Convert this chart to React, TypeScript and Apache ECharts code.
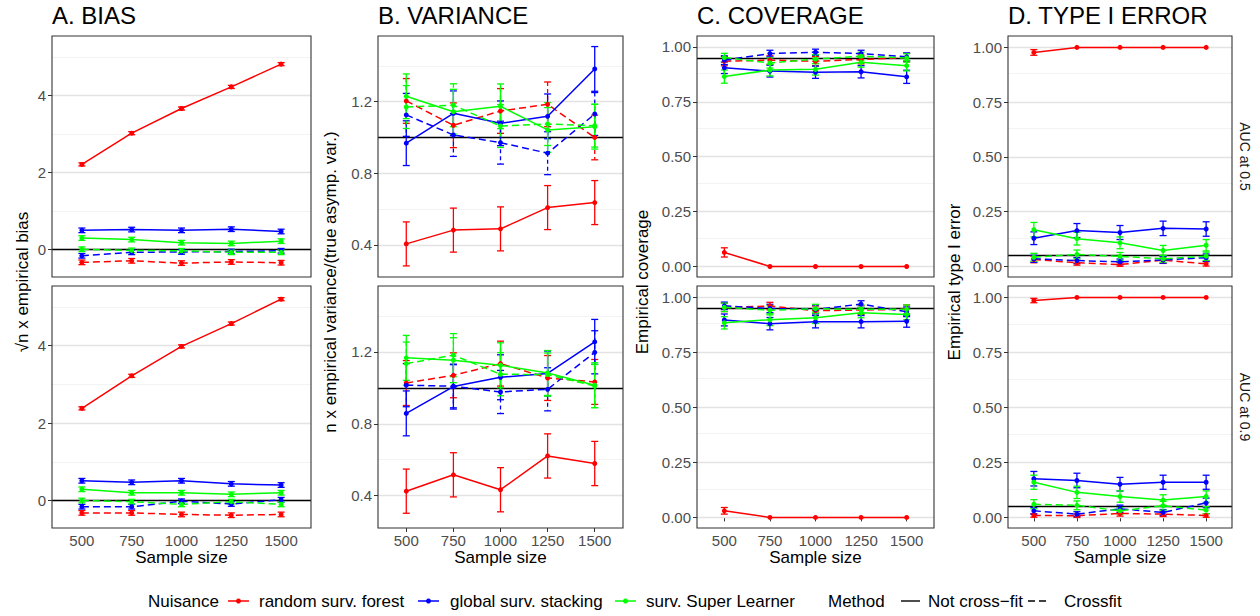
import React, { useEffect, useRef } from 'react';
import * as echarts from 'echarts';

const FONT = '"Liberation Sans", Arial, Helvetica, sans-serif';

// ---------- categories / labels ----------
const SAMPLE_SIZES = [500, 750, 1000, 1250, 1500];
const NUISANCE = ['random surv. forest', 'global surv. stacking', 'surv. Super Learner'];
const NUISANCE_COLORS = ['#FF0000', '#0000FF', '#00FF00'];
const METHODS = ['Not cross\u2212fit', 'Crossfit'];
const ROW_LABELS = ['AUC at 0.5', 'AUC at 0.9'];
const PANEL_TITLES = ['A. BIAS', 'B. VARIANCE', 'C. COVERAGE', 'D. TYPE I ERROR'];
const Y_TITLES = [
  '\u221An x empirical bias',
  'n x empirical variance/(true asymp. var.)',
  'Empirical coverage',
  'Empirical type I error',
];
const X_TITLE = 'Sample size';

// y-axis ticks per column
const BIAS_TICKS = [0, 2, 4];
const BIAS_MINOR = [1, 3, 5];
const VAR_TICKS = [0.4, 0.8, 1.2];
const VAR_MINOR = [0.6, 1.0, 1.4];
const PROB_TICKS = [0, 0.25, 0.5, 0.75, 1];
const PROB_MINOR = [0.125, 0.375, 0.625, 0.875];
const REFERENCE_LINES = [0, 1, 0.95, 0.05];

// ---------- A. BIAS (AUC 0.5) ----------
const bias05_rsf = [2.21, 3.02, 3.66, 4.22, 4.81];
const bias05_rsf_cf = [-0.33, -0.29, -0.35, -0.32, -0.34];
const bias05_gss = [0.5, 0.52, 0.5, 0.53, 0.47];
const bias05_gss_cf = [-0.16, -0.07, -0.06, -0.05, -0.03];
const bias05_sl = [0.3, 0.26, 0.18, 0.16, 0.22];
const bias05_sl_cf = [0.01, -0.02, -0.03, -0.07, -0.07];
const bias05_err = [
  [0.04, 0.04, 0.04, 0.04, 0.04],
  [0.06, 0.06, 0.06, 0.06, 0.06],
  [0.06, 0.06, 0.06, 0.06, 0.06],
  [0.06, 0.06, 0.06, 0.06, 0.06],
  [0.06, 0.06, 0.06, 0.06, 0.06],
  [0.06, 0.06, 0.06, 0.06, 0.06],
];
// ---------- A. BIAS (AUC 0.9) ----------
const bias09_rsf = [2.38, 3.22, 3.98, 4.57, 5.2];
const bias09_rsf_cf = [-0.32, -0.32, -0.36, -0.38, -0.36];
const bias09_gss = [0.51, 0.47, 0.51, 0.43, 0.4];
const bias09_gss_cf = [-0.16, -0.16, -0.02, -0.09, 0.02];
const bias09_sl = [0.29, 0.2, 0.2, 0.16, 0.2];
const bias09_sl_cf = [0.0, -0.03, -0.1, -0.03, -0.1];
const bias09_err = bias05_err;

// ---------- B. VARIANCE (AUC 0.5) ----------
const var05_rsf = [0.405, 0.482, 0.489, 0.608, 0.636];
const var05_rsf_cf = [1.204, 1.068, 1.148, 1.185, 1.0];
const var05_gss = [0.968, 1.135, 1.079, 1.118, 1.383];
const var05_gss_cf = [1.126, 1.014, 0.971, 0.912, 1.131];
const var05_sl = [1.23, 1.144, 1.174, 1.042, 1.06];
const var05_sl_cf = [1.17, 1.18, 1.064, 1.075, 1.066];
const var05_err = [
  [0.123, 0.123, 0.123, 0.123, 0.123],
  [0.125, 0.125, 0.125, 0.125, 0.125],
  [0.125, 0.125, 0.125, 0.125, 0.125],
  [0.12, 0.12, 0.12, 0.12, 0.12],
  [0.125, 0.125, 0.125, 0.125, 0.125],
  [0.12, 0.12, 0.12, 0.12, 0.12],
];
// ---------- B. VARIANCE (AUC 0.9) ----------
const var09_rsf = [0.425, 0.516, 0.433, 0.621, 0.579];
const var09_rsf_cf = [1.027, 1.07, 1.135, 1.055, 1.033];
const var09_gss = [0.858, 1.007, 1.059, 1.08, 1.256];
const var09_gss_cf = [1.015, 1.009, 0.977, 0.992, 1.198];
const var09_sl = [1.167, 1.154, 1.126, 1.083, 1.015];
const var09_sl_cf = [1.135, 1.182, 1.076, 1.074, 1.01];
const var09_err = var05_err;

// ---------- C. COVERAGE (AUC 0.5) ----------
const cov05_rsf = [0.064, 0, 0, 0, 0];
const cov05_rsf_cf = [0.935, 0.94, 0.935, 0.943, 0.952];
const cov05_gss = [0.905, 0.89, 0.885, 0.887, 0.864];
const cov05_gss_cf = [0.94, 0.97, 0.976, 0.97, 0.955];
const cov05_sl = [0.865, 0.895, 0.898, 0.93, 0.915];
const cov05_sl_cf = [0.952, 0.927, 0.945, 0.958, 0.95];
const cov05_err = [
  [0.021, 0, 0, 0, 0],
  [0.021, 0.02, 0.021, 0.02, 0.019],
  [0.026, 0.027, 0.028, 0.028, 0.03],
  [0.02, 0.015, 0.014, 0.015, 0.018],
  [0.03, 0.027, 0.026, 0.022, 0.024],
  [0.019, 0.023, 0.02, 0.018, 0.019],
];
// ---------- C. COVERAGE (AUC 0.9) ----------
const cov09_rsf = [0.03, 0, 0, 0, 0];
const cov09_rsf_cf = [0.953, 0.959, 0.938, 0.941, 0.944];
const cov09_gss = [0.896, 0.879, 0.888, 0.888, 0.89];
const cov09_gss_cf = [0.96, 0.948, 0.944, 0.968, 0.933];
const cov09_sl = [0.883, 0.897, 0.906, 0.929, 0.921];
const cov09_sl_cf = [0.953, 0.94, 0.947, 0.944, 0.944];
const cov09_err = [
  [0.015, 0, 0, 0, 0],
  [0.019, 0.017, 0.021, 0.02, 0.02],
  [0.027, 0.028, 0.028, 0.028, 0.027],
  [0.017, 0.019, 0.02, 0.015, 0.022],
  [0.028, 0.027, 0.026, 0.023, 0.024],
  [0.019, 0.021, 0.02, 0.02, 0.02],
];

// ---------- D. TYPE I ERROR (AUC 0.5) ----------
const t1e05_rsf = [0.977, 1, 1, 1, 1];
const t1e05_rsf_cf = [0.032, 0.017, 0.009, 0.029, 0.012];
const t1e05_gss = [0.129, 0.164, 0.155, 0.174, 0.171];
const t1e05_gss_cf = [0.035, 0.027, 0.021, 0.03, 0.04];
const t1e05_sl = [0.168, 0.127, 0.108, 0.073, 0.097];
const t1e05_sl_cf = [0.042, 0.055, 0.046, 0.035, 0.047];
const t1e05_err = [
  [0.013, 0, 0, 0, 0],
  [0.015, 0.011, 0.008, 0.015, 0.01],
  [0.029, 0.032, 0.032, 0.033, 0.033],
  [0.016, 0.014, 0.013, 0.015, 0.017],
  [0.033, 0.029, 0.027, 0.023, 0.026],
  [0.018, 0.02, 0.018, 0.016, 0.019],
];
// ---------- D. TYPE I ERROR (AUC 0.9) ----------
const t1e09_rsf = [0.986, 1, 1, 1, 1];
const t1e09_rsf_cf = [0.009, 0.008, 0.018, 0.015, 0.009];
const t1e09_gss = [0.176, 0.168, 0.151, 0.16, 0.16];
const t1e09_gss_cf = [0.03, 0.015, 0.039, 0.023, 0.066];
const t1e09_sl = [0.16, 0.114, 0.095, 0.079, 0.095];
const t1e09_sl_cf = [0.06, 0.055, 0.03, 0.053, 0.033];
const t1e09_err = [
  [0.01, 0, 0, 0, 0],
  [0.008, 0.008, 0.012, 0.011, 0.008],
  [0.033, 0.033, 0.031, 0.032, 0.032],
  [0.015, 0.011, 0.017, 0.013, 0.022],
  [0.032, 0.028, 0.026, 0.024, 0.026],
  [0.021, 0.02, 0.015, 0.02, 0.016],
];

// ---------- assembled per panel (series order: rsf, rsf cf, gss, gss cf, sl, sl cf) ----------
const COLUMN_VALUES = [
  [
    [bias05_rsf, bias05_rsf_cf, bias05_gss, bias05_gss_cf, bias05_sl, bias05_sl_cf],
    [bias09_rsf, bias09_rsf_cf, bias09_gss, bias09_gss_cf, bias09_sl, bias09_sl_cf],
  ],
  [
    [var05_rsf, var05_rsf_cf, var05_gss, var05_gss_cf, var05_sl, var05_sl_cf],
    [var09_rsf, var09_rsf_cf, var09_gss, var09_gss_cf, var09_sl, var09_sl_cf],
  ],
  [
    [cov05_rsf, cov05_rsf_cf, cov05_gss, cov05_gss_cf, cov05_sl, cov05_sl_cf],
    [cov09_rsf, cov09_rsf_cf, cov09_gss, cov09_gss_cf, cov09_sl, cov09_sl_cf],
  ],
  [
    [t1e05_rsf, t1e05_rsf_cf, t1e05_gss, t1e05_gss_cf, t1e05_sl, t1e05_sl_cf],
    [t1e09_rsf, t1e09_rsf_cf, t1e09_gss, t1e09_gss_cf, t1e09_sl, t1e09_sl_cf],
  ],
];
const COLUMN_ERRORS = [
  [bias05_err, bias09_err],
  [var05_err, var09_err],
  [cov05_err, cov09_err],
  [t1e05_err, t1e09_err],
];
const COLUMN_TICKS = [BIAS_TICKS, VAR_TICKS, PROB_TICKS, PROB_TICKS];
const COLUMN_MINOR = [BIAS_MINOR, VAR_MINOR, PROB_MINOR, PROB_MINOR];
const COLUMN_DECIMALS = [0, 1, 2, 2];

// ---------- layout (pixels) ----------
const COL_LEFT = [52, 378, 697, 1008];
const COL_WIDTH = [259, 245, 237, 224];
const ROW_TOP = [36, 286];
const ROW_HEIGHT = [241, 242];
const Y_EXTENT = [
  [-0.71, 5.54],
  [0.22, 1.567],
  [-0.048, 1.05],
  [-0.048, 1.052],
];
const X_EXTENT = [350, 1650];
const Y_TITLE_X = [22, 330, 642, 954];
const STRIP_X = 1245;

function buildOption() {
  const grid: any[] = [];
  const xAxis: any[] = [];
  const yAxis: any[] = [];
  const series: any[] = [];
  const graphic: any[] = [];
  const title: any[] = [];

  let gi = 0;
  for (let col = 0; col < 4; col++) {
    title.push({
      text: PANEL_TITLES[col],
      left: COL_LEFT[col],
      top: 3,
      padding: 0,
      textStyle: { fontSize: 24, fontWeight: 'normal', color: '#000', fontFamily: FONT },
    });
    graphic.push({
      type: 'text',
      x: Y_TITLE_X[col],
      y: (ROW_TOP[0] + ROW_TOP[1] + ROW_HEIGHT[1]) / 2,
      rotation: Math.PI / 2,
      z: 50,
      style: {
        text: Y_TITLES[col],
        font: `17px ${FONT}`,
        fill: '#000',
        textAlign: 'center',
        textVerticalAlign: 'middle',
        align: 'center',
        verticalAlign: 'middle',
      },
    });
    for (let row = 0; row < 2; row++) {
      const left = COL_LEFT[col];
      const top = ROW_TOP[row];
      const width = COL_WIDTH[col];
      const height = ROW_HEIGHT[row];
      const dec = COLUMN_DECIMALS[col];
      grid.push({ left, top, width, height, containLabel: false, show: true, backgroundColor: '#fff', borderWidth: 0 });
      const bottom = row === 1;
      xAxis.push({
        gridIndex: gi,
        type: 'value',
        min: X_EXTENT[0],
        max: X_EXTENT[1],
        axisLine: { show: false },
        splitLine: { show: false },
        axisTick: { show: bottom, customValues: SAMPLE_SIZES, length: 4, lineStyle: { color: '#333333', width: 1 } },
        axisLabel: {
          show: bottom,
          customValues: SAMPLE_SIZES,
          margin: 5,
          color: '#4D4D4D',
          fontSize: 15,
          fontFamily: FONT,
          formatter: (v: number) => String(v),
        },
        name: bottom ? X_TITLE : '',
        nameLocation: 'middle',
        nameGap: 21,
        nameTextStyle: { fontSize: 17, color: '#000', fontFamily: FONT },
      });
      yAxis.push({
        gridIndex: gi,
        type: 'value',
        min: Y_EXTENT[col][0],
        max: Y_EXTENT[col][1],
        axisLine: { show: false },
        splitLine: { show: false },
        axisTick: { show: true, customValues: COLUMN_TICKS[col], length: 4, lineStyle: { color: '#333333', width: 1 } },
        axisLabel: {
          customValues: COLUMN_TICKS[col],
          margin: 6,
          color: '#4D4D4D',
          fontSize: 15,
          fontFamily: FONT,
          formatter: (v: number) => v.toFixed(dec),
        },
      });

      // gridlines (kept below the data)
      series.push({
        type: 'line',
        xAxisIndex: gi,
        yAxisIndex: gi,
        data: [[SAMPLE_SIZES[0], COLUMN_TICKS[col][0]]],
        symbol: 'none',
        lineStyle: { width: 0 },
        silent: true,
        z: 1,
        markLine: {
          z: 1,
          silent: true,
          symbol: ['none', 'none'],
          label: { show: false },
          emphasis: { disabled: true },
          data: [
            ...COLUMN_MINOR[col].map((v) => ({ yAxis: v, lineStyle: { color: '#F2F2F2', width: 0.9, type: 'solid' } })),
            ...COLUMN_TICKS[col].map((v) => ({ yAxis: v, lineStyle: { color: '#E3E3E3', width: 1.3, type: 'solid' } })),
          ],
        },
      });
      // reference line
      series.push({
        type: 'line',
        xAxisIndex: gi,
        yAxisIndex: gi,
        data: [[SAMPLE_SIZES[0], REFERENCE_LINES[col]]],
        symbol: 'none',
        lineStyle: { width: 0 },
        silent: true,
        z: 2,
        markLine: {
          z: 2,
          silent: true,
          symbol: ['none', 'none'],
          label: { show: false },
          emphasis: { disabled: true },
          data: [{ yAxis: REFERENCE_LINES[col], lineStyle: { color: '#000', width: 1.3, type: 'solid' } }],
        },
      });

      const values = COLUMN_VALUES[col][row];
      const errs = COLUMN_ERRORS[col][row];
      values.forEach((vals, j) => {
        const color = NUISANCE_COLORS[Math.floor(j / 2)];
        const dashed = j % 2 === 1;
        const e = errs[j];
        series.push({
          type: 'custom',
          xAxisIndex: gi,
          yAxisIndex: gi,
          silent: true,
          z: 3,
          encode: { x: 0, y: [1, 2] },
          data: SAMPLE_SIZES.map((s, k) => [s, vals[k] - e[k], vals[k] + e[k]]),
          renderItem: (_params: any, api: any) => {
            const x = api.value(0);
            const lo = api.value(1);
            const hi = api.value(2);
            if (hi - lo < 1e-9) return { type: 'group', children: [] };
            const a = api.coord([x, hi]);
            const b = api.coord([x, lo]);
            const style: any = { stroke: color, lineWidth: 1.3, fill: null };
            if (dashed) style.lineDash = [4, 3];
            return {
              type: 'group',
              children: [
                { type: 'line', shape: { x1: a[0], y1: a[1], x2: b[0], y2: b[1] }, style },
                { type: 'line', shape: { x1: a[0] - 3.5, y1: a[1], x2: a[0] + 3.5, y2: a[1] }, style: { ...style, lineDash: null } },
                { type: 'line', shape: { x1: b[0] - 3.5, y1: b[1], x2: b[0] + 3.5, y2: b[1] }, style: { ...style, lineDash: null } },
              ],
            };
          },
        });
        series.push({
          type: 'line',
          name: `${NUISANCE[Math.floor(j / 2)]} / ${METHODS[j % 2]}`,
          xAxisIndex: gi,
          yAxisIndex: gi,
          data: SAMPLE_SIZES.map((s, k) => [s, vals[k]]),
          symbol: 'circle',
          symbolSize: 5,
          showSymbol: true,
          silent: true,
          z: 4,
          lineStyle: { color, width: 1.5, type: dashed ? [7, 4] : 'solid' },
          itemStyle: { color },
        });
      });

      // panel border
      graphic.push({
        type: 'rect',
        z: 60,
        silent: true,
        shape: { x: left, y: top, width, height },
        style: { fill: 'transparent', stroke: '#333333', lineWidth: 1.1 },
      });

      if (col === 3) {
        graphic.push({
          type: 'text',
          x: STRIP_X,
          y: top + height / 2,
          rotation: -Math.PI / 2,
          z: 50,
          style: {
            text: ROW_LABELS[row],
            font: `14px ${FONT}`,
            fill: '#1A1A1A',
            textAlign: 'center',
            textVerticalAlign: 'middle',
            align: 'center',
            verticalAlign: 'middle',
          },
        });
      }
      gi++;
    }
  }

  // legend (bottom)
  const LEGEND_Y = 601;
  const txt = (text: string, x: number) => ({
    type: 'text',
    x,
    y: LEGEND_Y,
    z: 50,
    style: {
      text,
      font: `17px ${FONT}`,
      fill: '#000',
      textAlign: 'left',
      textVerticalAlign: 'middle',
      align: 'left',
      verticalAlign: 'middle',
    },
  });
  graphic.push(txt('Nuisance', 148));
  const keyX = [[228, 249], [418, 439], [615, 636]];
  const keyTextX = [259, 450, 646];
  NUISANCE.forEach((name, i) => {
    graphic.push({
      type: 'line',
      z: 50,
      shape: { x1: keyX[i][0], y1: LEGEND_Y, x2: keyX[i][1], y2: LEGEND_Y },
      style: { stroke: NUISANCE_COLORS[i], lineWidth: 1.5 },
    });
    graphic.push({
      type: 'circle',
      z: 51,
      shape: { cx: (keyX[i][0] + keyX[i][1]) / 2, cy: LEGEND_Y, r: 2.5 },
      style: { fill: NUISANCE_COLORS[i] },
    });
    graphic.push(txt(name, keyTextX[i]));
  });
  graphic.push(txt('Method', 828));
  const methodKeyX = [[901, 920], [1028, 1048]];
  const methodTextX = [928, 1064];
  METHODS.forEach((name, i) => {
    const st: any = { stroke: '#000', lineWidth: 1.4 };
    if (i === 1) st.lineDash = [7, 4];
    graphic.push({
      type: 'line',
      z: 50,
      shape: { x1: methodKeyX[i][0], y1: LEGEND_Y, x2: methodKeyX[i][1], y2: LEGEND_Y },
      style: st,
    });
    graphic.push(txt(name, methodTextX[i]));
  });

  return {
    animation: false,
    backgroundColor: '#fff',
    textStyle: { fontFamily: FONT },
    title,
    grid,
    xAxis,
    yAxis,
    series,
    graphic,
  };
}

export default function App() {
  const ref = useRef<HTMLDivElement>(null);
  useEffect(() => {
    if (!ref.current) return;
    const chart = echarts.init(ref.current, null, { renderer: 'svg' });
    chart.setOption(buildOption() as any);
    return () => chart.dispose();
  }, []);
  return (
    <div
      ref={ref}
      style={{ position: 'absolute', left: 0, top: 0, width: 1260, height: 616, background: '#fff' }}
    />
  );
}
